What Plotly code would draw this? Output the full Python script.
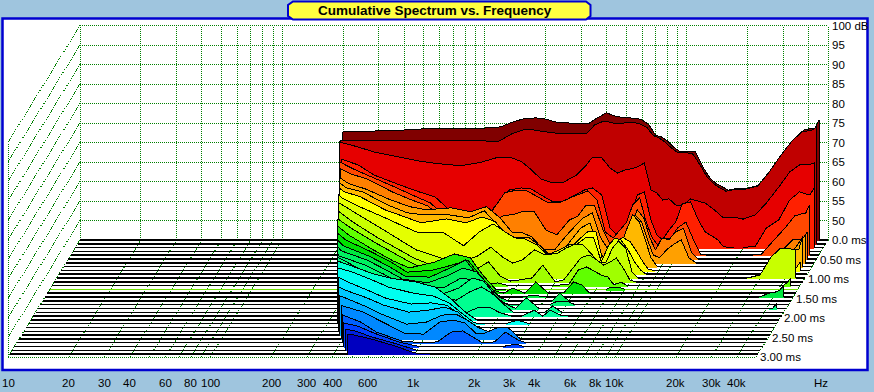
import math
import plotly.graph_objects as go

title_text = "Cumulative Spectrum vs. Frequency"
freq_tick_hz = [10, 20, 30, 40, 60, 80, 100, 200, 300, 400, 600, 1000, 2000, 3000, 4000, 6000, 8000, 10000, 20000, 30000, 40000]
freq_tick_text = ["10", "20", "30", "40", "60", "80", "100", "200", "300", "400", "600", "1k", "2k", "3k", "4k", "6k", "8k", "10k", "20k", "30k", "40k"]
grid_hz = [10, 20, 30, 40, 50, 60, 70, 80, 90, 100, 200, 300, 400, 500, 600, 700, 800, 900, 1000, 2000, 3000, 4000, 5000, 6000, 7000, 8000, 9000, 10000, 20000, 30000, 40000, 50000]
db_ticks = [100, 95, 90, 85, 80, 75, 70, 65, 60, 55, 50]
time_ticks = [0.0, 0.5, 1.0, 1.5, 2.0, 2.5, 3.0]
time_text = ["0.0 ms", "0.50 ms", "1.00 ms", "1.50 ms", "2.00 ms", "2.50 ms", "3.00 ms"]
floor_ms = [0, 0.0975, 0.195, 0.2925, 0.39, 0.4875, 0.585, 0.6825, 0.78, 0.8775, 0.975, 1.0725, 1.17, 1.2675, 1.365, 1.4625,
            1.56, 1.6575, 1.755, 1.8525, 1.95, 2.0475, 2.145, 2.2425, 2.34, 2.4375, 2.535, 2.6325, 2.73, 2.8275, 2.925]
slice_ms = [0, 0.0975, 0.195, 0.195, 0.39, 0.4875, 0.585, 0.6825, 0.78, 0.8775, 0.975, 1.0725, 1.17, 1.2675, 1.365, 1.4625,
            1.56, 1.6575, 1.755, 1.8525, 1.95, 2.0475, 2.145, 2.2425, 2.34, 2.4375, 2.535, 2.6325, 2.73, 2.8275, 2.925]
slice_colors = ["#800000", "#c00000", "#e60000", "#ff2000", "#ff4800", "#ff8000", "#ffa000", "#ffb800", "#ffff00", "#e4ff00",
                "#c8ff00", "#a0ff00", "#60ff00", "#20f000", "#00e000", "#00e840", "#00f060", "#00f878", "#00ff80", "#00ff90",
                "#00ffa0", "#00ffd0", "#00fff0", "#00e8ff", "#00c8ff", "#00a8ff", "#0088ff", "#0060ff", "#0040ff", "#0020e0", "#0000c0"]
start_hz = [198, 200, 202, 206, 214, 222, 226, 231, 236, 241, 247, 253, 259, 265, 272, 279,
            286, 294, 302, 310, 319, 328, 338, 348, 360, 375, 390, 408, 425, 445, 468]
start_db = [72.5, 71.4, 72.1, 67.7, 68.9, 68.1, 66.8, 66.5, 66.2, 65.6, 64.2, 63.2, 62.1, 61.3, 60.4, 59.6,
            59.0, 58.5, 58.2, 57.9, 57.6, 60.1, 59.3, 57.9, 56.3, 55.0, 53.7, 52.1, 51.0, 50.4, 50.1]

freq_hz = [200, 250, 300, 400, 500, 600, 800, 1000, 1200, 1400, 1600, 1800, 2000, 2300, 2600, 3000, 3300, 3600, 4000, 4400, 4800,
           5200, 5600, 6000, 6500, 7000, 7500, 8000, 8600, 9300, 10000, 11000, 12000, 13000, 14000, 15000, 16000, 18000, 20000,
           23000, 26000, 30000, 34000, 38000, 41000, 43000, 45000]

db_00 = [72.7, 72.8, 73, 73.2, 73.5, 73.7, 73.7, 73.7, 74, 75.4, 76.2, 76.3, 76, 75.1, 75, 75, 75, 76.3, 77.6, 76.8, 76.4, 76.3, 76.2, 75.8, 74.5, 71.9, 71.4, 70.4, 68.8, 67.6, 67.8, 67.6, 63.7, 60.9, 59.4, 58.6, 57.8, 58.3, 58.3, 59.1, 62.7, 67.3, 70.9, 73.2, 73.6, 73.7, 75.8]
db_01 = [None, 71.4, 71.4, 71.5, 71.5, 71.6, 71.5, 71.4, 71.2, 73.2, 74.2, 74.2, 73.8, 73.4, 73.4, 73.4, 73.4, 75.5, 76.5, 76, 75.7, 76.2, 76.1, 75.8, 74.9, 72.8, 72.1, 71.1, 69.6, 68.3, 68.5, 68, 65, 61.9, 60.3, 59.3, 58.5, 59, 59, 59.8, 63.2, 67.8, 71.4, 73.7, 74, 74.2, 75]
db_02 = [None, 70.8, 69.5, 68.2, 67.2, 66.6, 66, 66.8, 68, 68.2, 67.1, 64.9, 62.6, 61.6, 61.8, 63.6, 65.7, 68.2, 68, 65.4, 64.1, 64.9, 65.2, 65.7, 66.7, 59.8, 59, 57.2, 57.5, 55.9, 55.7, 57.5, 56.9, 56.4, 55.2, 53.9, 52.6, 52.8, 52.3, 53.4, 56.4, 60.5, 64.4, 66.2, 66.4, 66.4, 66.7]
db_03 = [None, 66.2, 63.6, 61.1, 59.3, 58, 52.1, 50.8, 55.9, 59.8, 60.3, 60, 58.5, 56.7, 56.9, 58.7, 59.8, 60.3, 58.5, 50, 48, 50.8, 53.4, 58.5, 59.3, 52.1, 48.2, 47, 49.5, 51.6, 56.2, 56.7, 52.1, 49, 48, 47, 45.2, 45, 45, 45.4, 50, 52.1, 57.2, 59.3, 58.7, 58.7, 60.3]
db_04 = [None, 67.1, 65.3, 62.5, 60.2, 58.4, 52.7, 51.5, 56.1, 61, 61.7, 61.5, 60.2, 58.4, 58.4, 59.9, 60.7, 61.5, 59.2, 50.9, 49.4, 51.5, 53.5, 57.9, 59.7, 53.5, 49.4, 47.6, 49.4, 49.4, 52, 53.5, 48.9, 45.3, 45, 45, 45, 45, 45, 45, 45.3, 48.9, 52, 55.1, 55.6, 55.8, 57.9]
db_05 = [None, 66.8, 65.5, 62.2, 60.1, 58.6, 52.9, 53.7, 53.7, 56, 56.5, 57.3, 57.3, 52.4, 51.2, 55, 56, 58.6, 58.6, 52.4, 48.6, 47.8, 49.9, 53.7, 57.6, 55.5, 50.4, 47.3, 50.4, 49.9, 51.9, 52.9, 46.8, 45, 45, 45, 45, 45, 45, 45, 45, 45, 47.3, 49.9, 49.9, 50.4, 51.9]
db_06 = [None, 65.3, 64, 61.2, 59.4, 58.6, 59.1, 58.1, 59.4, 56.5, 52.9, 52.7, 51.7, 48.3, 48.3, 52.2, 54.5, 56.5, 57.8, 51.4, 48.3, 47.8, 49.6, 52.9, 57.3, 55.5, 50.9, 47, 46.3, 48.3, 49.6, 50.9, 46.3, 45, 45, 45, 45, 45, 45, 45, 45, 45, 45, 47, 49.4, 50.9, 51.9]
db_07 = [None, 65.2, 64.2, 60.8, 58.8, 58.3, 58.3, 57.5, 59.3, 55.7, 52.4, 52.4, 52.4, 50.1, 47.3, 49.8, 52.4, 54.9, 56.2, 49.3, 46.2, 46.2, 49.3, 53.9, 58.3, 56.5, 51.9, 47.3, 45, 45, 45, 45, 45, 45, 45, 45, 45, 45, 45, 45, 45, 45, 45.2, 46.2, 49.3, 49.3, 52.9]
db_08 = [None, 65.2, 63.9, 60.5, 58.7, 57.2, 58.2, 57.2, 58.7, 57.5, 53.4, 52.8, 52.8, 50.3, 47.2, 48.7, 50.8, 52.8, 54.9, 54.9, 46.4, 50.3, 52.8, 53.4, 52.3, 49.8, 47.2, 45.2, 45, 45, 45, 45, 45, 45, 45, 45, 45, 45, 45, 45, 45, 45, 45, 45, 45.2, 45.7, 47.2]
db_09 = [None, 64.6, 62.5, 59.7, 57.4, 55.6, 55.6, 52.3, 55.9, 57.9, 55.9, 54.3, 54.1, 52.5, 50, 51.3, 52.5, 52.5, 54.3, 54.3, 48.2, 52.3, 54.3, 53.8, 51.3, 48.2, 46.1, 45]
db_10 = [None, 64.2, 61.7, 57.8, 54.7, 52.2, 50.1, 49.1, 50.6, 52.9, 50.4, 48.8, 49.6, 52.2, 50.9, 51.4, 52.7, 53.5, 53.5, 51.2, 48.8, 49.1, 52.7, 54.5, 52.7, 46.5, 45, 45, 45, 45, 45, 45, 45, 45, 45, 45, 45, 45, 45, 45, 45, 45.8, 50.4, 52.7, 52.6, 52.4, 52.4]
db_11 = [None, None, 60.3, 56.2, 53.4, 51.1, 48.5, 47.5, 48, 50.1, 46.5, 45.2, 45.5, 46, 49.3, 45, 45.5, 48, 51.1, 51.9, 50.6, 49.3, 50.1, 51.1, 48.5, 45.5, 45]
db_12 = [None, None, 59.8, 55.9, 53.1, 50.8, 48, 47.2, 46.4, 45.4, 45.7, 45, 45, 45, 45, 45, 45.2, 45.4, 49, 49.8, 48.7, 47.7, 47.2, 45.2, 45.9, 45, 45, 45, 45, 45, 45, 45, 45, 45, 45, 45, 45, 45, 45, 45, 45, 45, 45, 45, 45, 45.7, 47]
db_13 = [None, None, 59, 55.1, 52.3, 50.5, 52, 54.1, 53.1, 48.4, 45.1, 45, 45, 45, 45, 45, 45, 45, 45, 45, 45, 45, 45, 45.6, 45.6, 45]
db_14 = [None, None, 58.6, 55.6, 53, 50.4, 50.9, 52.2, 53.5, 49.2, 45.8, 45, 46.3, 45, 47.9, 45, 45, 45.3, 47.9, 47.1, 45]
db_15 = [None, None, 58.1, 55.5, 52.9, 50.4, 50.1, 52.4, 54.5, 50.1, 46.8, 45, 45, 45, 45.5, 45, 45, 45, 45, 45, 45, 45, 45, 45, 45, 45, 45, 45, 45, 45, 45, 45, 45, 45, 45, 45, 45, 45, 45, 45, 45, 45, 45, 46, 46.3, 46.8, 48.1]
db_16 = [None, None, 57.8, 55.5, 52.9, 50.6, 49.6, 51.4, 53.4, 52.4, 49.1, 46, 45, 45, 45, 45, 45, 47, 45]
db_17 = [None, None, 57.5, 55.2, 52.8, 50.5, 49.3, 49.5, 51.8, 51.3, 49.5, 46.7, 45.2, 45, 45, 45, 45, 45.9, 45.9, 45]
db_18 = [None, None, None, 54.8, 52.5, 50.7, 49.5, 48.7, 50.2, 52.8, 52, 48.7, 46.4, 45, 47.7, 45, 45, 45, 45, 45, 45, 45, 45, 45, 45, 45, 45, 45, 45, 45, 45, 45, 45, 45, 45, 45, 45, 45, 45, 45, 45, 45, 45, 45, 45, 45.1, 46.4]
db_19 = [None, None, None, 54.8, 52.5, 50.7, 49.7, 48.6, 48.1, 50.2, 51.5, 49.9, 47.6, 45, 45, 45, 45, 46.6, 45]
db_20 = [None, None, None, 54.7, 52.9, 51.4, 50.1, 49.1, 46.5, 46, 47.3, 47.3, 46, 45, 45, 46.5, 45, 46.5, 45.3, 45]
db_21 = [None, None, None, 58.5, 56.7, 55.7, 54.7, 53.4, 50.3, 47, 45]
db_22 = [None, None, None, 58.2, 56.2, 54.4, 52.8, 52.1, 50.3, 47.5, 45.2, 45, 45, 45, 45.9, 45]
db_23 = [None, None, None, 56.4, 54.3, 52.5, 51, 51.3, 50.7, 48.2, 45.6, 45]
db_24 = [None, None, None, 55.3, 53.5, 51.7, 49.9, 50.4, 51.2, 49.9, 47.1, 45.1, 45]
db_25 = [None, None, None, 54.5, 52.4, 50.4, 47.8, 48.3, 50.1, 50.4, 48.8, 47, 46, 45]
db_26 = [None, None, None, 53.4, 51.9, 49.8, 46.5, 46.2, 49.3, 49.8, 49.1, 46.5, 46.5, 47.8, 48, 45]
db_27 = [None, None, None, None, 50.3, 47.7, 45.4, 45, 45.2, 47.7, 48, 46.4, 45, 45.2, 47.7, 45.7, 45]
db_28 = [None, None, None, None, 50.2, 48.4, 46.1, 45, 45, 45, 45, 45, 45, 45, 45, 45.6, 45]
db_29 = [None, None, None, None, 49.9, 48.4, 46.6, 45]
db_30 = [None, None, None, None, 49.9, 49, 47.1, 45.3, 45]

slices = [db_00, db_01, db_02, db_03, db_04, db_05, db_06, db_07, db_08, db_09, db_10, db_11, db_12, db_13, db_14, db_15,
          db_16, db_17, db_18, db_19, db_20, db_21, db_22, db_23, db_24, db_25, db_26, db_27, db_28, db_29, db_30]

W, H = 874, 392
PX_DEC = 202.3          # pixels per decade
PX_DB = 3.9             # pixels per dB
FLOOR_DB = 45
DEPTH_X = 24 / PX_DEC   # decades per ms
DEPTH_Y = 10.0          # dB per ms
LIME_FLOOR = 13
F_LOW, F_HIGH = 10, 50000
T_END = 3.0


def px(f, t):
    return math.log10(f) - DEPTH_X * t


def py(db, t):
    return db - DEPTH_Y * t


fig = go.Figure()


def add_line(xs, ys, color, width, dash=None):
    fig.add_trace(go.Scatter(x=xs, y=ys, mode="lines", hoverinfo="skip", showlegend=False,
                             line=dict(color=color, width=width, dash=dash, simplify=False)))


# dotted walls and floor grid
gx, gy = [], []
for f in grid_hz:
    gx += [px(f, 0), px(f, 0), None, px(f, 0), px(f, T_END), None]
    gy += [FLOOR_DB, 100, None, FLOOR_DB, py(FLOOR_DB, T_END), None]
for d in db_ticks:
    gx += [px(F_LOW, 0), px(F_HIGH, 0), None, px(F_LOW, 0), px(F_LOW, T_END), None]
    gy += [d, d, None, d, py(d, T_END), None]
gx += [px(F_LOW, 0), px(F_LOW, T_END), None, px(F_LOW, T_END), px(F_LOW, T_END), None, px(F_LOW, T_END), px(F_HIGH, T_END)]
gy += [100, py(100, T_END), None, py(FLOOR_DB, T_END), py(100, T_END), None, py(FLOOR_DB, T_END), py(FLOOR_DB, T_END)]
add_line(gx, gy, "#008000", 1, "1px,1px")

DROP = 0.3
for i, t_floor in enumerate(floor_ms):
    add_line([px(F_LOW, t_floor), px(F_HIGH, t_floor)], [py(FLOOR_DB, t_floor)] * 2,
             "#70e000" if i == LIME_FLOOR else "#000000", 1.5)
    t = slice_ms[i]
    row = slices[i] + [FLOOR_DB] * (len(freq_hz) - len(slices[i]))
    pts = [(start_hz[i], start_db[i])] + [(f, d) for f, d in zip(freq_hz, row) if d is not None and f > start_hz[i]]
    runs, cur = [], []
    for j, (f, d) in enumerate(pts):
        above = d > FLOOR_DB
        nb = (j > 0 and pts[j - 1][1] > FLOOR_DB) or (j + 1 < len(pts) and pts[j + 1][1] > FLOOR_DB)
        if above or nb:
            cur.append((f, d))
            if not above and cur and len(cur) > 1 and not (j + 1 < len(pts) and pts[j + 1][1] > FLOOR_DB):
                runs.append(cur)
                cur = []
        elif cur:
            runs.append(cur)
            cur = []
    if cur:
        runs.append(cur)
    fx, fy, lx, ly = [], [], [], []
    for r in runs:
        xs = [px(f, t) for f, _ in r]
        ys = [py(max(d, FLOOR_DB), t) for _, d in r]
        base = py(FLOOR_DB, t)
        fx += xs + [xs[-1], xs[0], xs[0], None]
        fy += ys + [base - DROP, base - DROP, ys[0], None]
        lx += [xs[0]] + xs + [xs[-1], None]
        ly += [base] + ys + [base, None]
    fig.add_trace(go.Scatter(x=fx, y=fy, mode="lines", fill="toself", fillcolor=slice_colors[i], hoverinfo="skip",
                             showlegend=False, line=dict(width=0, color=slice_colors[i], simplify=False)))
    add_line(lx, ly, "#000000", 1)

# tick labels
anns = []
font = dict(family="Liberation Sans, Arial, sans-serif", size=11.5, color="#000000")
for f, s in zip(freq_tick_hz, freq_tick_text):
    anns.append(dict(x=px(f, T_END), y=1 - 383 / H, xref="x", yref="paper", text=s, showarrow=False, font=font,
                     xanchor="center", yanchor="middle"))
anns.append(dict(x=821 / W, y=1 - 383 / H, xref="paper", yref="paper", text="Hz", showarrow=False, font=font,
                 xanchor="center", yanchor="middle"))
for d in db_ticks:
    anns.append(dict(x=px(F_HIGH, 0), y=d, xref="x", yref="y", text="100 dB" if d == 100 else str(d), showarrow=False,
                     font=font, xanchor="left", yanchor="middle", xshift=2))
for t, s in zip(time_ticks, time_text):
    anns.append(dict(x=px(F_HIGH, t), y=py(FLOOR_DB, t), xref="x", yref="y", text=s, showarrow=False, font=font,
                     xanchor="left", yanchor="middle", xshift=2))
anns.append(dict(x=435 / W, y=1 - 10.5 / H, xref="paper", yref="paper", text="<b>" + title_text + "</b>", showarrow=False,
                 font=dict(family="Liberation Sans, Arial, sans-serif", size=13.5, color="#000000"),
                 xanchor="center", yanchor="middle"))


def P(x, y):
    return f"{x / W:.5f},{1 - y / H:.5f}"


title_path = ("M " + P(293, 1.5) + " L " + P(586, 1.5) + " L " + P(590.5, 5) + " L " + P(590.5, 16) + " L " + P(586, 19.5)
              + " L " + P(293, 19.5) + " L " + P(288, 16) + " L " + P(288, 5) + " Z")
shapes = [
    dict(type="rect", xref="paper", yref="paper", x0=2.5 / W, x1=867.5 / W, y0=1 - 370 / H, y1=1 - 18.5 / H,
         fillcolor="#ffffff", line=dict(color="#0000d0", width=2.5), layer="below"),
    dict(type="path", xref="paper", yref="paper", path=title_path, fillcolor="#ffff40",
         line=dict(color="#0000d0", width=2), layer="above"),
]

fig.update_layout(
    width=W, height=H, margin=dict(l=0, r=0, t=0, b=0), paper_bgcolor="#9fc5de", plot_bgcolor="rgba(0,0,0,0)",
    showlegend=False, annotations=anns, shapes=shapes,
    xaxis=dict(visible=False, range=[1 - 80 / PX_DEC, 1 + (W - 80) / PX_DEC], fixedrange=True),
    yaxis=dict(visible=False, range=[100 - (H - 25.5) / PX_DB, 100 + 25.5 / PX_DB], fixedrange=True),
)
page_css = ("document.body.style.margin='0';document.documentElement.style.overflow='hidden';"
            "var s=document.createElement('style');"
            "s.textContent='.scatterlayer path.js-line,.scatterlayer path.js-fill{shape-rendering:crispEdges}';"
            "document.head.appendChild(s);")
fig.write_html("out.html", config=dict(displayModeBar=False), post_script=page_css)
